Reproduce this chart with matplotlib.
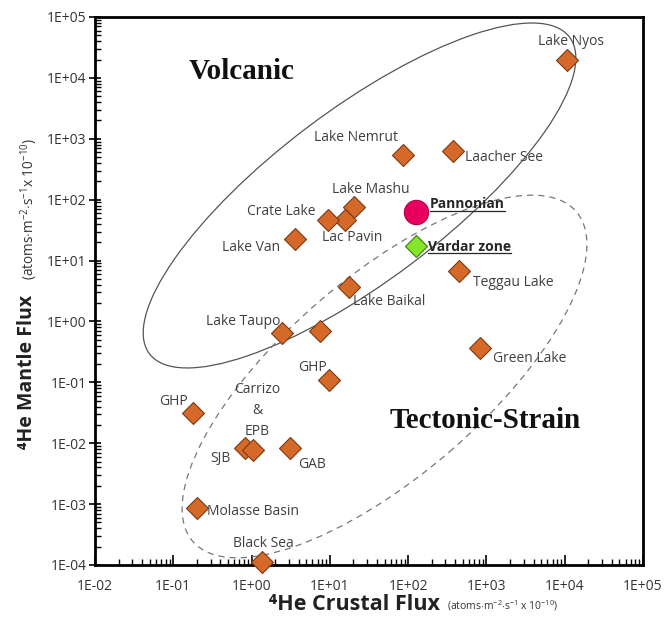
import math
import matplotlib
matplotlib.use("Agg")
import matplotlib.pyplot as plt
from matplotlib.patches import Ellipse
from matplotlib.ticker import FixedLocator, LogLocator, FuncFormatter, NullFormatter

plt.rcParams['font.family'] = ['Open Sans', 'DejaVu Sans']
plt.rcParams['mathtext.fontset'] = 'custom'
plt.rcParams['mathtext.rm'] = 'Open Sans'
plt.rcParams['mathtext.it'] = 'Open Sans:italic'
plt.rcParams['mathtext.bf'] = 'Open Sans:bold'

# 4He crustal / mantle flux per site (atoms m-2 s-1 x 1e-10)
site_names = ['Lake Nyos', 'Lake Nemrut', 'Laacher See', 'Lake Mashu', 'Lac Pavin',
              'Crate Lake', 'Lake Van', 'Lake Baikal', 'Teggau Lake', 'Lake Taupo',
              '', 'GHP', 'GHP', 'SJB', 'Carrizo\n&\nEPB', 'GAB', 'Molasse Basin',
              'Black Sea', 'Green Lake']
crustal_flux = [1.07e4, 86, 373, 20.3, 15.6,
                9.5, 3.6, 17.5, 446, 2.44,
                7.5, 9.8, 0.179, 0.82, 1.04, 3.09, 0.20,
                1.36, 826]
mantle_flux = [1.97e4, 542, 631, 76, 46.4,
               46.4, 22.6, 3.69, 6.75, 0.647,
               0.70, 0.109, 0.0315, 0.0084, 0.0078, 0.0084, 0.00087,
               1.12e-4, 0.367]

# label placement (offset in pixels from the marker) and alignment
label_dx = [4, -47, 12, 17, 7, -13, -15, 4, 14, -2, 0, -17, -20, -24, 4, 22, 10, 1, 13]
label_dy = [18, 17, -7, 17, -18, 8, -9, -15, -12, 11, 0, 13, 11, -11, 39, -17, -4, 19, -11]
label_ha = ['center', 'center', 'left', 'center', 'center', 'right', 'right', 'left',
            'left', 'right', 'center', 'center', 'center', 'center', 'center', 'center',
            'left', 'center', 'left']

pannonian = (126, 62.8)
vardar = (126, 17.4)

x_ticks = [1e-2, 1e-1, 1e0, 1e1, 1e2, 1e3, 1e4, 1e5]
y_ticks = [1e-4, 1e-3, 1e-2, 1e-1, 1e0, 1e1, 1e2, 1e3, 1e4, 1e5]

fig = plt.figure(figsize=(6.67, 6.24), dpi=100)
ax = fig.add_axes([95 / 667, 59 / 624, 548 / 667, 548 / 624])
ax.set_xscale('log')
ax.set_yscale('log')
ax.set_xlim(1e-2, 1e5)
ax.set_ylim(1e-4, 1e5)

# field outlines (drawn in axes units so they stay ellipses on the log-log frame)
volc = Ellipse((0.4827, 0.6743), 0.960, 0.313, angle=37, transform=ax.transAxes,
               fill=False, edgecolor='#555555', lw=0.9, zorder=2)
tect = Ellipse((0.5283, 0.344), 0.923, 0.363, angle=40.7, transform=ax.transAxes,
               fill=False, edgecolor='#777777', lw=0.9, linestyle=(0, (5, 4)), zorder=2)
ax.add_patch(volc)
ax.add_patch(tect)

ax.plot(crustal_flux, mantle_flux, linestyle='none', marker='D', markersize=11.5,
        markerfacecolor='#D4692A', markeredgecolor='#7A3A12', markeredgewidth=0.8,
        zorder=4, clip_on=False)

for name, x, y, dx, dy, ha in zip(site_names, crustal_flux, mantle_flux,
                                  label_dx, label_dy, label_ha):
    if not name:
        continue
    ax.annotate(name, (x, y), xytext=(dx, dy), textcoords='offset pixels',
                ha=ha, va='center', fontsize=10, color='#404040',
                linespacing=1.55, zorder=5)

ax.plot(*pannonian, linestyle='none', marker='o', markersize=17.5,
        markerfacecolor='#E8005E', markeredgecolor='#B0004A', markeredgewidth=0.8, zorder=5)
ax.plot(*vardar, linestyle='none', marker='D', markersize=11.5,
        markerfacecolor='#86E42A', markeredgecolor='#3C7A10', markeredgewidth=0.8, zorder=5)
pan_txt = ax.annotate('Pannonian', pannonian, xytext=(14, 8), textcoords='offset pixels',
                      ha='left', va='center', fontsize=10, fontweight='bold',
                      color='#262626', zorder=6)
var_txt = ax.annotate('Vardar zone', vardar, xytext=(12, -1), textcoords='offset pixels',
                      ha='left', va='center', fontsize=10, fontweight='bold',
                      color='#262626', zorder=6)

ax.text(0.268, 0.901, 'Volcanic', transform=ax.transAxes, ha='center', va='center',
        family='Liberation Serif', fontweight='bold', fontsize=21, color='#111111')
ax.text(0.712, 0.263, 'Tectonic-Strain', transform=ax.transAxes, ha='center', va='center',
        family='Liberation Serif', fontweight='bold', fontsize=21, color='#111111')

sci = FuncFormatter(lambda v, pos: '1E{:+03d}'.format(int(round(math.log10(v)))))
for axis, ticks in [(ax.xaxis, x_ticks), (ax.yaxis, y_ticks)]:
    axis.set_major_locator(FixedLocator(ticks))
    axis.set_minor_locator(LogLocator(base=10, subs=range(2, 10), numticks=20))
    axis.set_major_formatter(sci)
    axis.set_minor_formatter(NullFormatter())
ax.tick_params(axis='x', which='major', direction='in', length=7, width=1.2,
               labelsize=10, labelcolor='#333333', pad=10)
ax.tick_params(axis='x', which='minor', direction='in', length=4, width=1.0)
ax.tick_params(axis='y', which='major', direction='inout', length=8, width=1.2,
               labelsize=10, labelcolor='#333333', pad=2)
ax.tick_params(axis='y', which='minor', direction='in', length=4, width=1.0)
for sp in ax.spines.values():
    sp.set_linewidth(2.0)

fig.text(354 / 667, 1 - 605 / 624, '⁴He Crustal Flux', ha='center', va='center',
         fontsize=15.5, fontweight='bold', color='#222222')
fig.text(447 / 667, 1 - 606 / 624, r'(atoms$\cdot$m$^{-2}$$\cdot$s$^{-1}$ x 10$^{-10}$)',
         ha='left', va='center', fontsize=7.5, color='#333333')
fig.text(27 / 667, 1 - 372 / 624, '⁴He Mantle Flux', ha='center', va='center',
         rotation=90, fontsize=14, fontweight='bold', color='#222222')
fig.text(29 / 667, 1 - 209 / 624, r'(atoms$\cdot$m$^{-2}$$\cdot$s$^{-1}$x 10$^{-10}$)',
         ha='center', va='center', rotation=90, fontsize=9.8, color='#333333')

# underline the two highlighted labels across their rendered width
fig.canvas.draw()
renderer = fig.canvas.get_renderer()
for txt, drop in [(pan_txt, 7), (var_txt, 6)]:
    bb = txt.get_window_extent(renderer)
    ymid = (bb.y0 + bb.y1) / 2 - drop
    ax.plot([bb.x0, bb.x1], [ymid, ymid], color='#262626', lw=0.9,
            transform=None, zorder=6)

fig.savefig('out.png', dpi=100, facecolor='white')
